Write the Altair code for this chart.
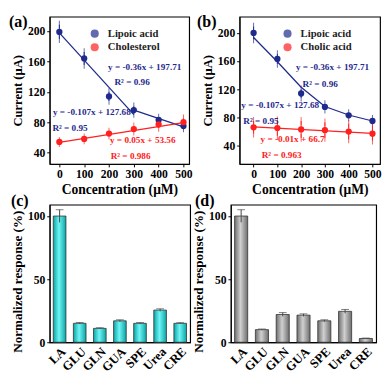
import altair as alt
import pandas as pd

FONT = "Liberation Serif"
NAVY = "#1f2a8c"
RED = "#ff2020"

# ---------------- data ----------------
conc = [0, 100, 200, 300, 400, 500]
current_ticks = [40, 80, 120, 160, 200]

a_lipoic = [199, 164, 114, 96, 83, 75]
a_lipoic_err = [9.5, 8.5, 6, 5, 3, 3]
a_chol = [54, 58, 65, 71, 77, 80]
a_chol_err = [1.5, 2, 2.5, 3.5, 4.5, 5]

b_lipoic = [200, 163, 114, 95, 83, 75]
b_lipoic_err = [9, 7, 6, 4, 3, 3]
b_cholic = [66, 65, 63, 62, 60, 57]
b_cholic_err = [9, 11, 12, 11, 11, 10]

# fitted lines
a_fit1_x, a_fit1_y = [0, 300], [197.7, 90]
a_fit2_x, a_fit2_y = [300, 500], [96, 74]
a_fitc_x, a_fitc_y = [0, 500], [53.5, 79.5]
b_fit1_x, b_fit1_y = [0, 100, 200, 300, 400, 500], [193.5, 159, 123, 95.5, 83.5, 75]
b_fitc_x, b_fitc_y = [0, 500], [66.5, 57.5]

species = ["LA", "GLU", "GLN", "GUA", "SPE", "Urea", "CRE"]
c_vals = [100, 15, 11, 17, 15, 25.5, 15]
c_err = [5, 0.6, 0.5, 0.8, 0.6, 1, 0.5]
d_vals = [100, 10, 22, 21.5, 17, 24.5, 3]
d_err = [5, 0.5, 1.5, 1, 0.8, 1.5, 0.3]

a_notes = [
    ("y = -0.36x + 197.71", 344, 152.5, 0),
    ("R² = 0.96", 293, 133, 0),
    ("y = -0.107x + 127.68", 131, 94, 0),
    ("R² = 0.95", 43, 72, 0),
    ("y = 0.05x + 53.56", 336, 56.5, 1),
    ("R² = 0.986", 287, 35, 1),
]
b_notes = [
    ("y = -0.36x + 197.71", 332, 151.5, 0),
    ("R² = 0.96", 280, 128, 0),
    ("y = -0.107x + 127.68", 112, 98, 0),
    ("R² = 0.95", 31, 74.5, 0),
    ("y = -0.01x + 66.7", 164, 49, 1),
    ("R² = 0.963", 118, 26, 1),
]

PALETTE = [NAVY, RED]


def panel_label(label, dx, dy):
    return alt.Chart(pd.DataFrame({"t": [label]})).mark_text(
        font=FONT, fontSize=16.5, fontWeight="bold", align="left", baseline="top").encode(
        x=alt.value(dx), y=alt.value(dy), text="t:N")


def line_panel(series, fits, notes, xdom, ydom, w, h, label, lab_xy, leg_xy):
    names = [s[0] for s in series]
    cmap = dict(zip(names, PALETTE))
    rows = []
    for name, vals, errs in series:
        for c, v, e in zip(conc, vals, errs):
            rows.append({"s": name, "c": cmap[name], "x": c, "y": v, "lo": v - e, "hi": v + e})
    pts = pd.DataFrame(rows)
    frows = []
    for k, (name, xs, ys) in enumerate(fits):
        for x, y in zip(xs, ys):
            frows.append({"s": name, "c": cmap[name], "seg": k, "x": x, "y": y})
    fdf = pd.DataFrame(frows)
    xs_ = alt.Scale(domain=xdom, nice=False, zero=False)
    ys_ = alt.Scale(domain=ydom, nice=False, zero=False)
    xax = alt.Axis(values=conc, title="Concentration (μM)", grid=False, labelOverlap=False)
    yax = alt.Axis(values=current_ticks, title="Current (μA)", grid=False,
                   titleFontSize=13, labelOverlap=False)

    def X(f):
        return alt.X(f, scale=xs_, axis=xax)

    def Y(f):
        return alt.Y(f, scale=ys_, axis=yax)

    C = alt.Color("c:N", scale=None)
    lines = alt.Chart(fdf).mark_line(strokeWidth=1.3).encode(
        x=X("x:Q"), y=Y("y:Q"), detail="seg:N", color=C)
    err = alt.Chart(pts).mark_rule(strokeWidth=1).encode(
        x=X("x:Q"), y=Y("lo:Q"), y2="hi:Q", color=C)
    caps_lo = alt.Chart(pts).mark_tick(size=8, thickness=1).encode(
        x=X("x:Q"), y=Y("lo:Q"), color=C)
    caps_hi = alt.Chart(pts).mark_tick(size=8, thickness=1).encode(
        x=X("x:Q"), y=Y("hi:Q"), color=C)
    dots = alt.Chart(pts).mark_circle(size=42, opacity=1).encode(
        x=X("x:Q"), y=Y("y:Q"),
        color=alt.Color("s:N", scale=alt.Scale(domain=names, range=PALETTE), sort=names,
                        legend=alt.Legend(title=None, orient="none", legendX=leg_xy[0],
                                          legendY=leg_xy[1], symbolSize=70, symbolType="circle",
                                          labelFont=FONT, labelFontSize=11, labelFontWeight="bold",
                                          labelColor="#222", rowPadding=2, padding=0,
                                          labelOffset=8)))
    nd = pd.DataFrame([{"t": t, "x": x, "y": y, "c": PALETTE[c]} for t, x, y, c in notes])
    txt = alt.Chart(nd).mark_text(font=FONT, fontSize=9.5, fontWeight="bold").encode(
        x=X("x:Q"), y=Y("y:Q"), text="t:N", color=C)
    lab = panel_label(label, *lab_xy)
    return alt.layer(lines, err, caps_lo, caps_hi, dots, txt, lab).properties(width=w, height=h)


def bar_panel(vals, errs, stops, label, lab_xy, w, h):
    df = pd.DataFrame({"k": species, "v": vals, "lo": [v - e for v, e in zip(vals, errs)],
                       "hi": [v + e for v, e in zip(vals, errs)]})
    X = alt.X("k:N", sort=species, title=None,
              scale=alt.Scale(paddingInner=0.37, paddingOuter=0.18),
              axis=alt.Axis(labelAngle=-45, labelFontSize=13, ticks=False, labelPadding=3,
                            labelOverlap=False))
    yscale = alt.Scale(domain=[0, 109], nice=False)
    yax = alt.Axis(values=[0, 50, 100], title="Normalized response (%)", grid=False,
                   titleFontSize=13.5, titleY=h / 2 + 8)
    bars = alt.Chart(df).mark_bar(
        stroke="#333", strokeWidth=0.8,
        fill=alt.Gradient(gradient="linear", x1=0, x2=1, y1=0, y2=0,
                          stops=[alt.GradientStop(offset=0, color=stops[0]),
                                 alt.GradientStop(offset=0.45, color=stops[1]),
                                 alt.GradientStop(offset=1, color=stops[0])])
    ).encode(x=X, y=alt.Y("v:Q", scale=yscale, axis=yax))
    err = alt.Chart(df).mark_rule(color="#444").encode(
        x=X, y=alt.Y("lo:Q", scale=yscale, axis=yax), y2="hi:Q")
    cap = alt.Chart(df).mark_tick(color="#444", size=8, thickness=1).encode(
        x=X, y=alt.Y("hi:Q", scale=yscale, axis=yax))
    lab = panel_label(label, *lab_xy)
    return alt.layer(bars, err, cap, lab).properties(width=w, height=h)


pa = line_panel([("Lipoic acid", a_lipoic, a_lipoic_err), ("Cholesterol", a_chol, a_chol_err)],
                [("Lipoic acid", a_fit1_x, a_fit1_y), ("Lipoic acid", a_fit2_x, a_fit2_y),
                 ("Cholesterol", a_fitc_x, a_fitc_y)],
                a_notes, [-39, 523], [25, 219], 144, 152, "(a)", (-42, -2), (41, 12))
pb = line_panel([("Lipoic acid", b_lipoic, b_lipoic_err), ("Cholic acid", b_cholic, b_cholic_err)],
                [("Lipoic acid", b_fit1_x, b_fit1_y), ("Cholic acid", b_fitc_x, b_fitc_y)],
                b_notes, [-59, 532], [14, 223], 145, 152, "(b)", (-44, -2), (44, 12))
pc = bar_panel(c_vals, c_err, ["#0aa5a5", "#70f4f4"], "(c)", (-40, -12), 145, 142)
pd_ = bar_panel(d_vals, d_err, ["#6e6e6e", "#d0d0d0"], "(d)", (-37, -12), 150, 142)

chart = alt.vconcat(
    alt.hconcat(pa, pb, spacing=3).resolve_scale(color="independent"),
    alt.hconcat(pc, pd_, spacing=0),
    spacing=-5,
).configure(font=FONT).configure_view(
    stroke="black", strokeWidth=1.2
).configure_axis(
    labelFont=FONT, labelFontSize=12, labelFontWeight="bold", labelColor="black",
    titleFont=FONT, titleFontSize=14, titleFontWeight="bold", titleColor="black",
    domainColor="black", tickColor="black", tickSize=3, labelPadding=2, titlePadding=3,
    labelOverlap=False
).properties(padding=0)

chart.save("out.html", embed_options={"renderer": "svg", "actions": False})
